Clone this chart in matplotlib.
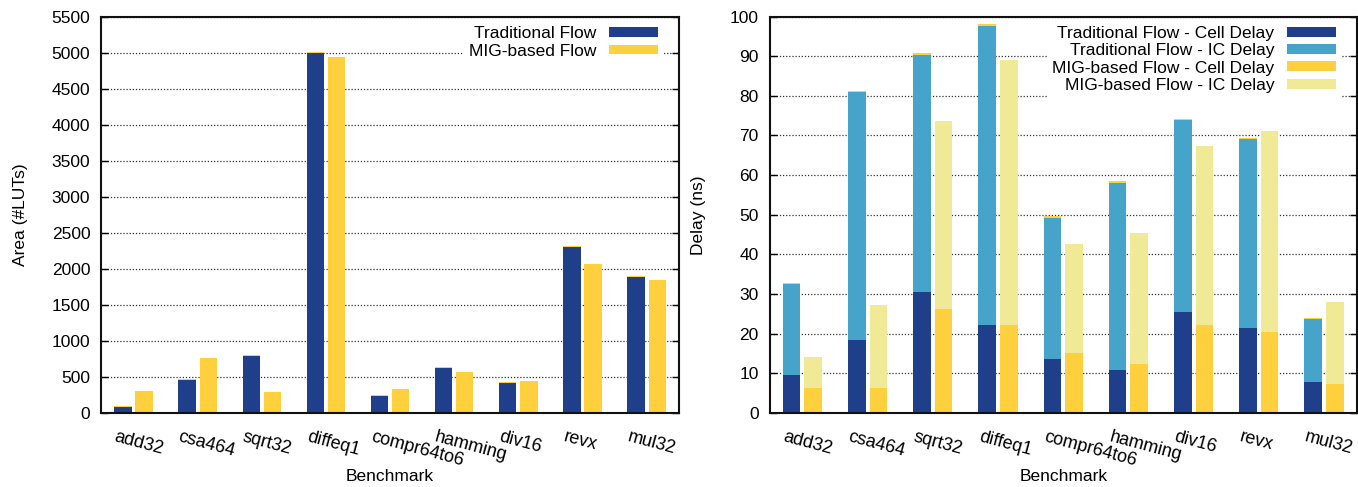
import matplotlib
matplotlib.use("Agg")
import matplotlib.pyplot as plt
import matplotlib.transforms as mtransforms
import numpy as np

plt.rcParams['font.family'] = ['Liberation Sans', 'DejaVu Sans']
plt.rcParams['font.size'] = 12

benchmarks = ["add32", "csa464", "sqrt32", "diffeq1", "compr64to6",
              "hamming", "div16", "revx", "mul32"]

area_traditional = [80, 455, 787, 5000, 232, 621, 412, 2300, 1887]
area_mig = [301, 760, 288, 4945, 330, 565, 440, 2066, 1846]

trad_cell = [9.7, 18.5, 30.5, 22.2, 13.5, 10.9, 25.5, 21.5, 7.7]
trad_total = [32.5, 80.9, 90.4, 97.7, 49.3, 58.1, 73.8, 69.1, 23.7]
mig_cell = [6.4, 6.4, 26.2, 22.2, 15.2, 12.4, 22.2, 20.5, 7.2]
mig_total = [14.0, 27.2, 73.6, 89.1, 42.5, 45.5, 67.3, 71.1, 28.0]

trad_ic = [t - c for t, c in zip(trad_total, trad_cell)]
mig_ic = [t - c for t, c in zip(mig_total, mig_cell)]

C_DBLUE = "#1f3f8b"
C_LBLUE = "#46a3c9"
C_YEL = "#fed03d"
C_PALE = "#f0ea96"

W = 0.27
OFF = 0.165

fig = plt.figure(figsize=(13.58, 4.87), dpi=100)
ax1 = fig.add_axes([0.0747, 0.152, 0.4251, 0.814])
ax2 = fig.add_axes([0.5669, 0.152, 0.4321, 0.814])

x = np.arange(len(benchmarks))


def style_axes(ax, ymax, step):
    ax.set_xlim(-0.5, len(benchmarks) - 0.5)
    ax.set_ylim(0, ymax)
    ax.set_yticks(np.arange(0, ymax + step / 2, step))
    ax.set_axisbelow(True)
    ax.yaxis.grid(True, linestyle=(0, (1, 1.5)), color="#333333", linewidth=0.9)
    ax.tick_params(axis='y', direction='in', right=True, length=5, width=1, labelsize=12.5, pad=8)
    ax.tick_params(axis='x', length=0, pad=11)
    ax.set_xticks(x)
    ax.set_xticklabels(benchmarks, rotation=-15, ha='left', va='top', fontsize=13,
                       rotation_mode='default')
    shift = mtransforms.ScaledTranslation(-21 / 100, 0, fig.dpi_scale_trans)
    for lbl in ax.get_xticklabels():
        lbl.set_transform(lbl.get_transform() + shift)
    for s in ax.spines.values():
        s.set_linewidth(1.5)
        s.set_color("#111111")
    ax.set_xlabel("Benchmark", fontsize=12.5, labelpad=0)


legend_kw = dict(loc='upper right', markerfirst=False, alignment='right',
                 frameon=True, framealpha=1, edgecolor='none', fancybox=False,
                 handlelength=2.8, handleheight=0.5, borderpad=0.3,
                 borderaxespad=0, handletextpad=0.75, fontsize=12.5)

# Left: area
style_axes(ax1, 5500, 500)
ax1.bar(x - OFF, area_traditional, W, color=C_DBLUE, label="Traditional Flow")
ax1.bar(x - OFF, [15] * len(x), W, bottom=area_traditional, color=C_YEL)
ax1.bar(x + OFF, area_mig, W, color=C_YEL, label="MIG-based Flow")
ax1.set_ylabel("Area (#LUTs)", fontsize=12.5, labelpad=17)
ax1.legend(bbox_to_anchor=(0.973, 0.99), labelspacing=0.17, **legend_kw)

# Right: delay
style_axes(ax2, 100, 10)
ax2.bar(x - OFF, trad_cell, W, color=C_DBLUE, label="Traditional Flow - Cell Delay")
ax2.bar(x - OFF, trad_ic, W, bottom=trad_cell, color=C_LBLUE, label="Traditional Flow - IC Delay")
ax2.bar(x - OFF, [0.3] * len(x), W, bottom=trad_total, color=C_YEL)
ax2.bar(x + OFF, mig_cell, W, color=C_YEL, label="MIG-based Flow - Cell Delay")
ax2.bar(x + OFF, mig_ic, W, bottom=mig_cell, color=C_PALE, label="MIG-based Flow - IC Delay")
ax2.set_ylabel("Delay (ns)", fontsize=12.5, labelpad=17)
ax2.legend(bbox_to_anchor=(0.9735, 0.99), labelspacing=0.14, **legend_kw)

fig.savefig("out.png", dpi=100)
